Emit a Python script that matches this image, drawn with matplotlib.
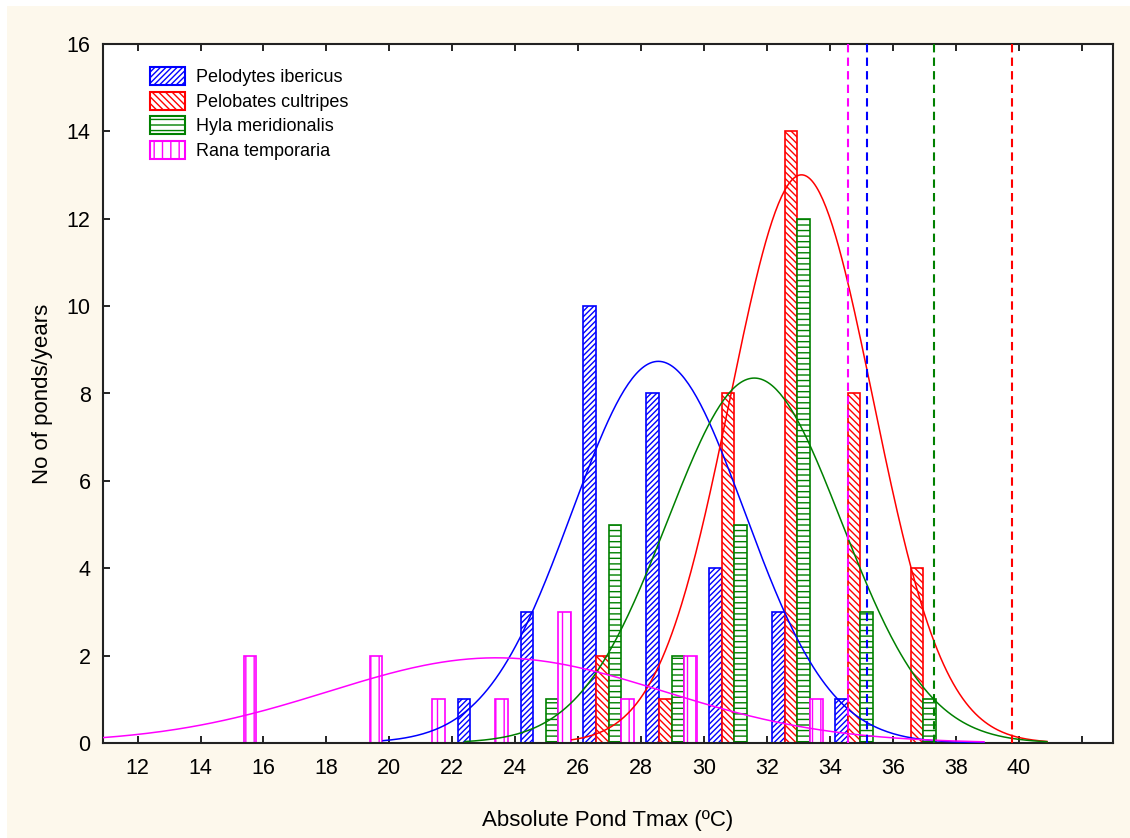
import numpy as np
import matplotlib
matplotlib.use("Agg")
import matplotlib.pyplot as plt
from matplotlib.patches import Patch, Rectangle

plt.rcParams['font.family'] = ['Liberation Sans', 'DejaVu Sans']
plt.rcParams['hatch.linewidth'] = 1.0

# Histogram bins (left edges, 2 degC wide) and counts per species
bin_edges = [14, 16, 18, 20, 22, 24, 26, 28, 30, 32, 34, 36]

species = ["Pelodytes ibericus", "Pelobates cultripes", "Hyla meridionalis", "Rana temporaria"]
colors = ["#0000FF", "#FF0000", "#008000", "#FF00FF"]
hatches = ["//////", "\\\\\\\\\\", "---", "||"]

counts_pelodytes = [0, 0, 0, 0, 1, 3, 10, 8, 4, 3, 1, 0]
counts_pelobates = [0, 0, 0, 0, 0, 0, 2, 1, 8, 14, 8, 4]
counts_hyla      = [0, 0, 0, 0, 0, 1, 5, 2, 5, 12, 3, 1]
counts_rana      = [2, 0, 2, 1, 1, 3, 1, 2, 0, 1, 0, 0]
all_counts = [counts_pelodytes, counts_pelobates, counts_hyla, counts_rana]

# Fitted normal curves: mean, sd, sample size, x-range drawn
curve_mean = [28.55, 33.1, 31.6, 23.4]
curve_sd = [2.74, 2.27, 2.77, 5.32]
curve_n = [30, 37, 29, 13]
curve_range = [(19.8, 38.9), (25.8, 40.9), (22.4, 40.9), (10.9, 38.9)]

# Maximum tolerated temperature per species (dashed lines)
ctmax = [35.17, 39.8, 37.3, 34.57]

BIN_W = 2.0
BAR_W = 0.4
bar_offsets = [0.37, 0.77, 1.17, 1.57]

fig = plt.figure(figsize=(11.3, 8.38), dpi=100, facecolor="#FDF8EC")
# thin white strip along top and left edges
fig.patches.append(Rectangle((0, 1 - 6 / 838), 1, 6 / 838, transform=fig.transFigure,
                             facecolor="white", edgecolor="none", zorder=0))
fig.patches.append(Rectangle((0, 0), 7 / 1130, 1, transform=fig.transFigure,
                             facecolor="white", edgecolor="none", zorder=0))

ax = fig.add_axes([103 / 1130, 1 - 743 / 838, (1113 - 103) / 1130, (743 - 44) / 838])
ax.set_facecolor("white")

for cnts, col, hat, off in zip(all_counts, colors, hatches, bar_offsets):
    xs = [b + off for b, c in zip(bin_edges, cnts) if c > 0]
    hs = [c for c in cnts if c > 0]
    ax.bar(xs, hs, width=BAR_W, facecolor="white", edgecolor=col, hatch=hat,
           linewidth=1.2, zorder=2)

for mu, sd, n, (x0, x1), col in zip(curve_mean, curve_sd, curve_n, curve_range, colors):
    xx = np.linspace(x0, x1, 300)
    yy = n * BIN_W / (sd * np.sqrt(2 * np.pi)) * np.exp(-0.5 * ((xx - mu) / sd) ** 2)
    ax.plot(xx, yy, color=col, linewidth=1.1, zorder=3)

for xv, col in zip(ctmax, colors):
    ax.axvline(xv, color=col, linestyle=(0, (4, 2.5)), linewidth=1.5, zorder=3)

ax.set_xlim(10.9, 43.0)
ax.set_ylim(0, 16)
ax.set_xticks(range(12, 43, 2))
ax.set_xticklabels([str(v) if v <= 40 else "" for v in range(12, 43, 2)])
ax.set_yticks(range(0, 17, 2))
ax.tick_params(direction="in", length=5, width=1.2, labelsize=15.5, colors="black",
               top=True, right=False)
ax.tick_params(axis="x", pad=11)
ax.tick_params(axis="y", pad=9)
for sp in ax.spines.values():
    sp.set_linewidth(1.5)
    sp.set_color("#222222")

ax.set_xlabel("Absolute Pond Tmax (ºC)", fontsize=16, labelpad=22)
ax.set_ylabel("No of ponds/years", fontsize=16, labelpad=10)

handles = [Patch(facecolor="white", edgecolor=c, hatch=h, linewidth=1.5)
           for c, h in zip(colors, hatches)]
leg = ax.legend(handles, species, loc="upper left", bbox_to_anchor=(0.03, 0.99),
                frameon=False, fontsize=13, handlelength=1.95, handleheight=1.15,
                labelspacing=0.3, handletextpad=0.6)

fig.savefig("out.png", dpi=100, facecolor=fig.get_facecolor())
